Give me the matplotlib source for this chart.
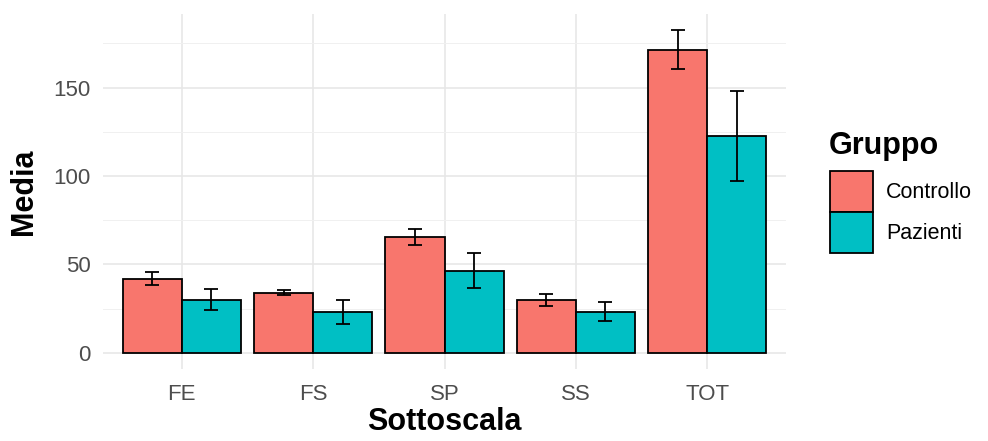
import numpy as np
import matplotlib
matplotlib.use("Agg")
import matplotlib.pyplot as plt
from matplotlib.patches import Patch

plt.rcParams['font.family'] = ['Liberation Sans', 'DejaVu Sans']

# medie e deviazioni standard per sottoscala
sottoscale = ["FE", "FS", "SP", "SS", "TOT"]
gruppi = ["Controllo", "Pazienti"]
media_controllo = [42, 34, 65.5, 30, 171.5]
sd_controllo = [3.5, 1.5, 4.5, 3.4, 11]
media_pazienti = [30, 23.3, 46.5, 23.2, 122.5]
sd_pazienti = [6, 6.7, 10, 5.4, 25.5]
colori = ["#F8766D", "#00BFC4"]

fig = plt.figure(figsize=(9.88, 4.41), dpi=100)
ax = fig.add_axes([103 / 988, 1 - 369 / 441, (786 - 103) / 988, (369 - 14) / 441])

x = np.arange(len(sottoscale))
w = 0.45
for i, (m, s) in enumerate([(media_controllo, sd_controllo), (media_pazienti, sd_pazienti)]):
    pos = x + (i - 0.5) * w
    ax.bar(pos, m, width=w, color=colori[i], edgecolor="black", linewidth=1.3, zorder=2)
    ax.errorbar(pos, m, yerr=s, fmt="none", ecolor="black", elinewidth=1.3,
                capsize=5, capthick=1.3, zorder=3)

# limiti con espansione del 5% come in ggplot
ymax = max(np.max(np.add(media_controllo, sd_controllo)), np.max(np.add(media_pazienti, sd_pazienti)))
ax.set_ylim(-0.05 * ymax, ymax * 1.05)
ax.set_xlim(-0.6, len(sottoscale) - 0.4)

ax.set_yticks([0, 50, 100, 150])
ax.set_yticks([25, 75, 125, 175], minor=True)
ax.set_xticks(x)
ax.set_xticklabels(sottoscale)
ax.grid(True, which="major", color="#e6e6e6", linewidth=1.1, zorder=0)
ax.grid(True, which="minor", axis="y", color="#f0f0f0", linewidth=0.7, zorder=0)
ax.set_axisbelow(True)
for sp in ax.spines.values():
    sp.set_visible(False)
ax.tick_params(which="both", length=0)
ax.tick_params(axis="y", labelsize=16, labelcolor="#4d4d4d", pad=9)
ax.tick_params(axis="x", labelsize=16, labelcolor="#4d4d4d", pad=11)

ax.set_xlabel("Sottoscala", fontsize=22, fontweight="bold", labelpad=1)
ax.set_ylabel("Media", fontsize=22, fontweight="bold", labelpad=10)

# legenda: titolo separato per lasciare spazio sopra i riquadri
fig.text(829 / 988, 1 - 146 / 441, "Gruppo", fontsize=22, fontweight="bold",
         ha="left", va="center")
handles = [Patch(facecolor=c, edgecolor="black", linewidth=1.3) for c in colori]
fig.legend(handles, gruppi, loc="upper left", bbox_to_anchor=(830 / 988, 1 - 171 / 441),
           frameon=False, fontsize=15.5,
           handlelength=2.0, handleheight=2.55, labelspacing=0.0,
           handletextpad=0.6, borderpad=0, borderaxespad=0)

fig.savefig("out.png", dpi=100)
